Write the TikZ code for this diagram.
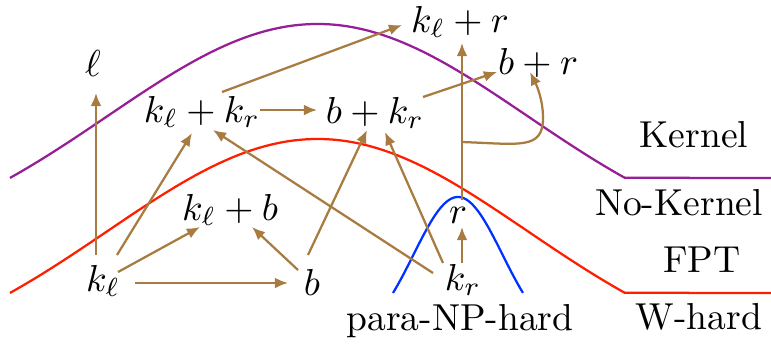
\documentclass[tikz,border=0pt]{standalone}
\usetikzlibrary{arrows.meta,calc}
\definecolor{arrowc}{RGB}{168,123,64}
\definecolor{purp}{RGB}{150,30,150}
\definecolor{redc}{RGB}{255,30,0}
\definecolor{bluec}{RGB}{0,50,255}
\begin{document}
\begin{tikzpicture}[x=0.2664pt,y=-0.2664pt,
  lbl/.style={inner sep=0pt},
  arr/.style={draw=arrowc,line width=0.6pt,-{Latex[length=3.5pt,width=2.9pt]}},
  region/.style={line width=0.6pt}]
\useasboundingbox (0,0) rectangle (771,345);
% region boundaries
\draw[region,purp] plot[domain=-1:1,samples=90,variable=\t]
  ({317.5+307.5*\t},{178-154*(exp(-1.072*\t*\t)-0.342)/0.658}) -- (771,178);
\draw[region,redc] plot[domain=-1:1,samples=90,variable=\t]
  ({317.5+307.5*\t},{293-154*(exp(-1.072*\t*\t)-0.342)/0.658}) -- (771,293);
\draw[region,bluec] plot[domain=-1:1,samples=60,variable=\t]
  ({458+65*\t},{293-96*(exp(-1.072*\t*\t)-0.342)/0.658});
% nodes
\node[lbl] (ell)  at (93,63)   {$\ell$};
\node[lbl] (klkr) at (202,112) {$k_\ell + k_r$};
\node[lbl] (bkr)  at (375,113) {$b + k_r$};
\node[lbl] (klr)  at (460,22)  {$k_\ell + r$};
\node[lbl] (br)   at (538,63)  {$b + r$};
\node[lbl] (r)    at (458,215) {$r$};
\node[lbl] (klb)  at (230,210) {$k_\ell + b$};
\node[lbl] (kl)   at (103,281) {$k_\ell$};
\node[lbl] (b)    at (312,282) {$b$};
\node[lbl] (kr)   at (463,280) {$k_r$};
\node[lbl] (para) at (460,321) {para-NP-hard};
\node[lbl] (kern) at (694,135) {Kernel};
\node[lbl] (nokern) at (679,203) {No-Kernel};
\node[lbl] (fpt)  at (702,260) {FPT};
\node[lbl] (whard) at (699,317) {W-hard};
% connectors
\draw[arr] ($(kl)+(-7,-26)$) -- ($(ell)+(3,30)$);
\draw[arr] ($(kl)+(14,-26)$) -- ($(klkr)+(-10,21)$);
\draw[arr] ($(kl)+(15,-9)$) -- ($(klb)+(-30,17)$);
\draw[arr] ($(kl)+(32,2)$) -- ($(b)+(-24,1)$);
\draw[arr] ($(b)+(-14,-12)$) -- ($(klb)+(22,17)$);
\draw[arr] ($(b)+(-4,-27)$) -- ($(bkr)+(-8,17)$);
\draw[arr] ($(kr)+(-30,-7)$) -- ($(klkr)+(11,18)$);
\draw[arr] ($(kr)+(-20,-17)$) -- ($(bkr)+(10,19)$);
\draw[arr] ($(kr)+(-1,-17)$) -- ($(r)+(4,12)$);
\draw[arr] ($(klkr)+(58,-2)$) -- ($(bkr)+(-58,-3)$);
\draw[arr] ($(klkr)+(20,-20)$) -- ($(klr)+(-58,3)$);
\draw[arr] ($(bkr)+(48,-16)$) -- ($(br)+(-41,9)$);
\draw[arr] ($(r)+(4,-15)$) -- ($(klr)+(2,21)$);
\coordinate (split) at ($(r)+(4,-73)$);
\draw[arr] (split) .. controls (520,144) and (543,150) .. (543,118)
  .. controls (543,100) and (537,86) .. ($(br)+(-8,9)$);
\end{tikzpicture}
\end{document}
